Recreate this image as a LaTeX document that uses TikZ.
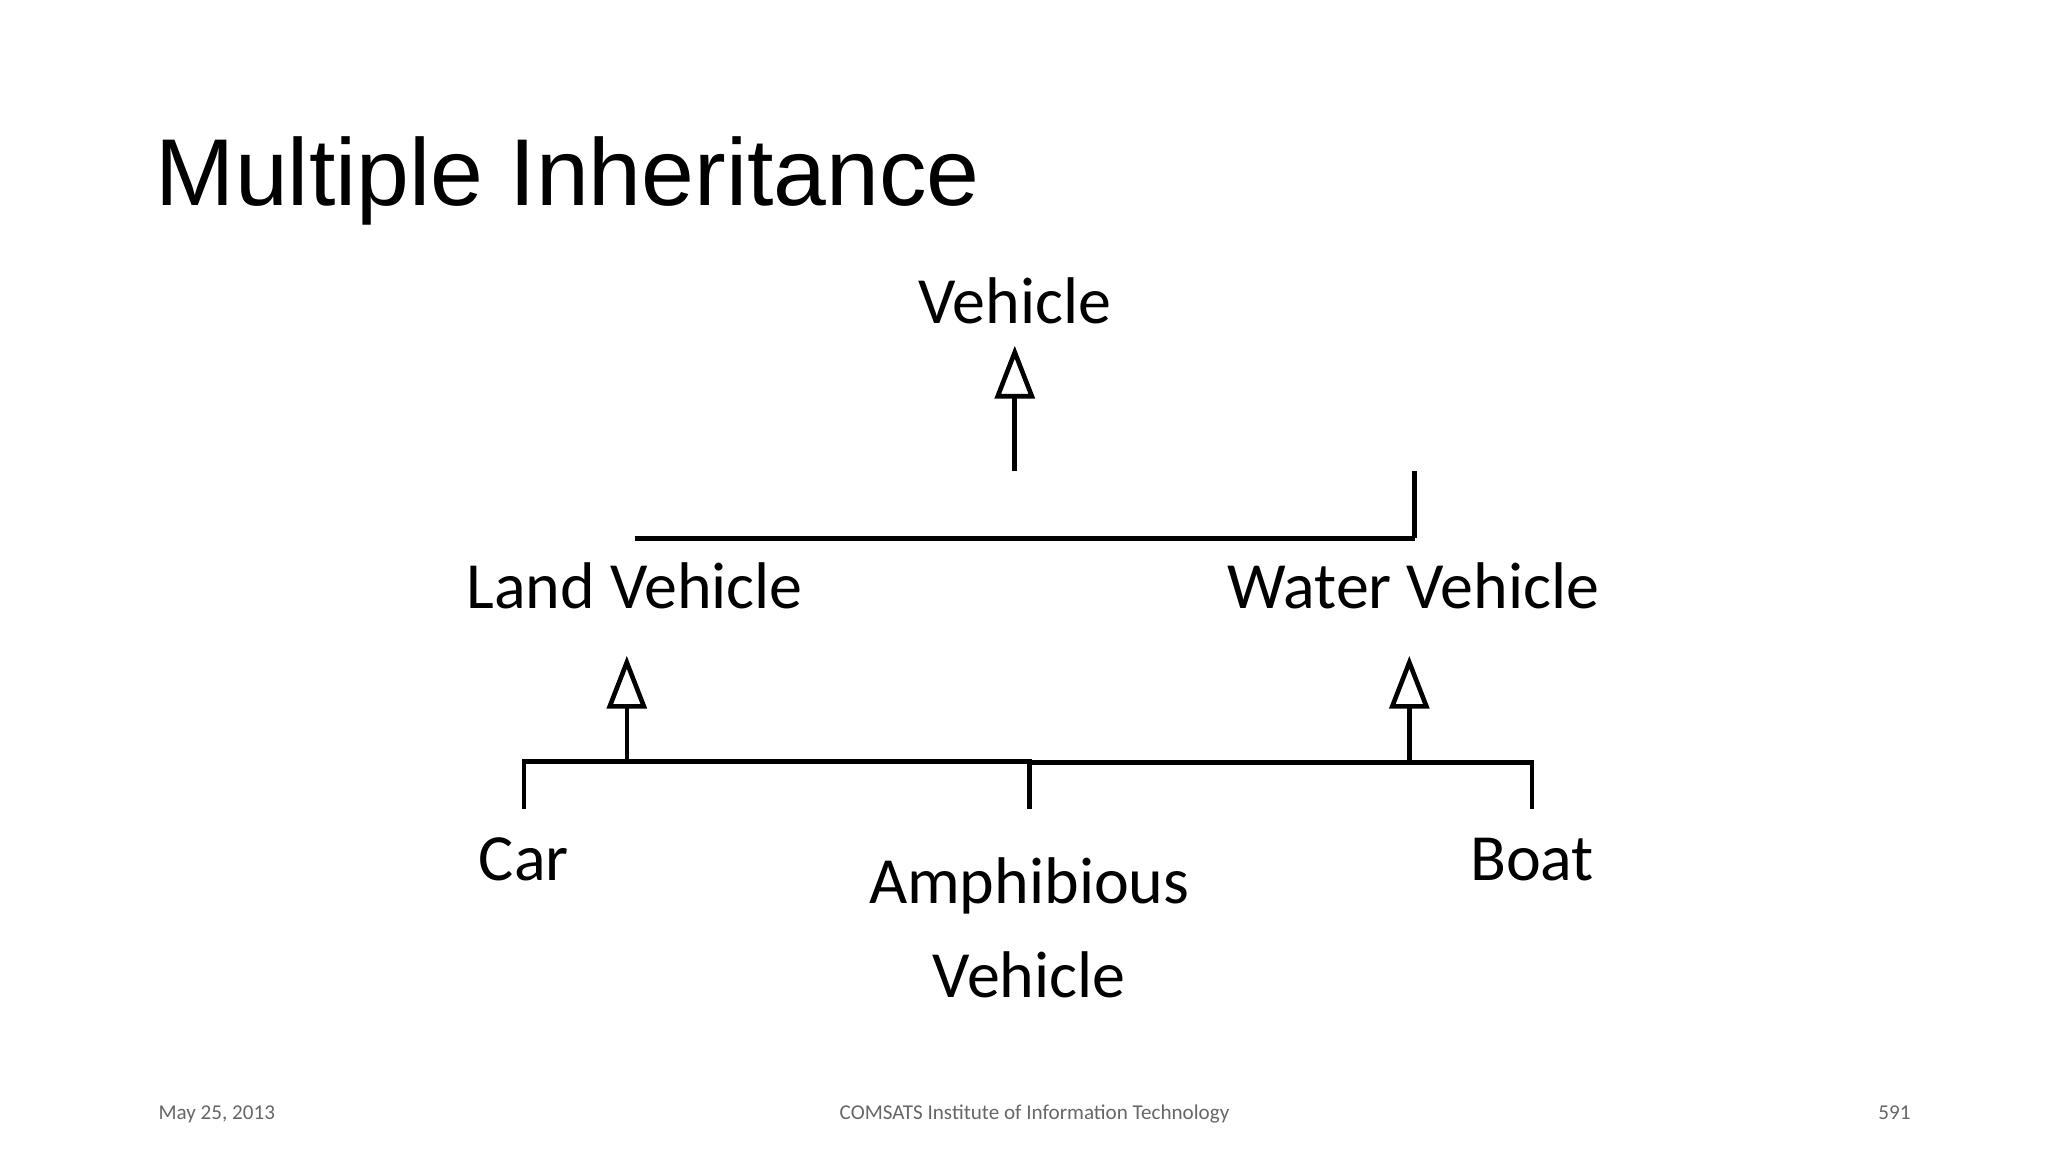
\documentclass[tikz,border=0pt]{standalone}
\usepackage{fontspec}
\setmainfont{Carlito}
\newfontfamily\titlefont{Liberation Sans}
\usetikzlibrary{arrows.meta}
\begin{document}
\begin{tikzpicture}[x=1pt,y=-1pt,
  lbl/.style={font=\fontsize{50}{60}\selectfont, inner sep=0pt, anchor=base},
  foot/.style={font=\fontsize{16}{19}\selectfont, text=black!60, inner sep=0pt, anchor=base},
  conn/.style={line width=3.5pt},
  inh/.style={conn, -{Triangle[open, width=30pt, length=40pt, line width=3.5pt]}}]
\useasboundingbox (0,0) rectangle (1552,873);
\node[font=\titlefont\fontsize{72}{80}\selectfont, anchor=base west, inner sep=0pt] (title) at (118,156) {Multiple Inheritance};
\node[lbl] (veh) at (769,245) {Vehicle};
\node[lbl] (land) at (481,461) {Land Vehicle};
\node[lbl] (water) at (1071,461) {Water Vehicle};
\node[lbl] (car) at (397,667) {Car};
\node[lbl] (amph1) at (780,685) {Amphibious};
\node[lbl] (amph2) at (780,756) {Vehicle};
\node[lbl] (boat) at (1161,667) {Boat};
\node[foot, anchor=base west] (date) at (120,848) {May 25, 2013};
\node[foot] (inst) at (784,848) {COMSATS Institute of Information Technology};
\node[foot, anchor=base east] (pg) at (1448,848) {591};
% top hierarchy
\coordinate (vtip) at (769,262);
\coordinate (vj) at (769,357);
\coordinate (lt) at (481,408);
\coordinate (wt) at (1072,408);
\draw[conn] (lt) |- (wt);
\draw[conn] (wt) -- (1072,357);
\draw[inh] (vj) -- (vtip);
% bottom hierarchy
\coordinate (ltip) at (475,497);
\coordinate (wtip) at (1068,497);
\draw[conn] (397,613) |- (780,577) -- (780,613);
\draw[conn] (780,578) -| (1161,613);
\draw[inh] (475,577) -- (ltip);
\draw[inh] (1068,578) -- (wtip);
\end{tikzpicture}
\end{document}
